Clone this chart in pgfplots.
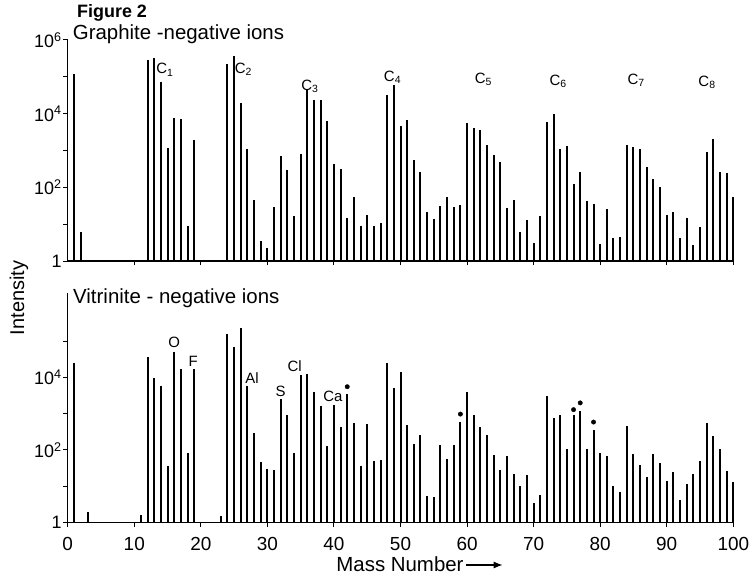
\documentclass[border=0pt]{standalone}
\usepackage{fontspec}
\setmainfont{Liberation Sans}
\usepackage{pgfplots}
\pgfplotsset{compat=1.18}
\usetikzlibrary{arrows.meta}

\begin{document}
\begin{tikzpicture}
\useasboundingbox (-67.7bp,-317bp) rectangle (685.3bp,261bp);

% graphite
\begin{axis}[at={(0,0)}, anchor=south west,
  scale only axis, width=665.6bp, height=221bp,
  xmin=0, xmax=100, ymode=log, ymin=1, ymax=1e6,
  axis lines=left, axis line style={-, line width=1.3bp},
  tick align=outside, major tick length=4.5bp, minor tick length=4.5bp,
  tick style={black, line width=1bp},
  xtick={10,20,...,100}, xticklabels={},
  ytick={1,100,10000,1000000}, minor ytick={10,1000,100000},
  yticklabels={1,10\textsuperscript{2},10\textsuperscript{4},10\textsuperscript{6}},
  yticklabel style={font=\fontsize{18}{18}\selectfont, inner sep=1.5bp},
  clip=false]
\addplot[ycomb, black, line width=2bp, mark=none] coordinates {
(1,1.2e5)(2,6)(12,2.8e5)(13,3.2e5)(14,7.4e4)(15,1.2e3)(16,7.8e3)(17,7.2e3)(18,9)(19,1.9e3)
(24,2.2e5)(25,3.7e5)(26,1.9e4)(27,1.1e3)(28,46)(29,3.4)(30,2.2)(31,30)(32,710)(33,300)
(34,17)(35,810)(36,4.4e4)(37,2.3e4)(38,2.4e4)(39,6.3e3)(40,420)(41,320)(42,15)(43,55)
(44,9)(45,18)(46,9)(47,11)(48,3.2e4)(49,5.9e4)(50,4.6e3)(51,6.6e3)(52,540)(53,260)
(54,21)(55,14)(56,32)(57,55)(58,30)(59,34)(60,5.6e3)(61,4.0e3)(62,3.5e3)(63,1.4e3)
(64,740)(65,490)(66,28)(67,46)(68,6)(69,13)(70,3)(71,17)(72,6.0e3)(73,1.0e4)
(74,1.1e3)(75,1.3e3)(76,120)(77,260)(78,43)(79,35)(80,2.9)(81,26)(82,4.2)(83,4.4)
(84,1.4e3)(85,1.26e3)(86,1.07e3)(87,350)(88,170)(89,105)(90,18)(91,22)(92,4.1)(93,15)
(94,2.7)(95,8.3)(96,890)(97,2.0e3)(98,260)(99,245)(100,55)
};
\node[font=\fontsize{15}{15}\selectfont, inner sep=0pt] at (axis cs:14.6,1.55e5) {C\textsubscript{1}};
\node[font=\fontsize{15}{15}\selectfont, inner sep=0pt] at (axis cs:26.4,1.6e5) {C\textsubscript{2}};
\node[font=\fontsize{15}{15}\selectfont, inner sep=0pt] at (axis cs:36.4,5.6e4) {C\textsubscript{3}};
\node[font=\fontsize{15}{15}\selectfont, inner sep=0pt] at (axis cs:48.8,9.5e4) {C\textsubscript{4}};
\node[font=\fontsize{15}{15}\selectfont, inner sep=0pt] at (axis cs:62.45,8.5e4) {C\textsubscript{5}};
\node[font=\fontsize{15}{15}\selectfont, inner sep=0pt] at (axis cs:73.7,7.5e4) {C\textsubscript{6}};
\node[font=\fontsize{15}{15}\selectfont, inner sep=0pt] at (axis cs:85.4,8e4) {C\textsubscript{7}};
\node[font=\fontsize{15}{15}\selectfont, inner sep=0pt] at (axis cs:96.05,7e4) {C\textsubscript{8}};
\end{axis}

% vitrinite
\begin{axis}[at={(0,-261.3bp)}, anchor=south west,
  scale only axis, width=665.6bp, height=229bp,
  xmin=0, xmax=100, ymode=log, ymin=1, ymax=2.14e6,
  axis lines=left, axis line style={-, line width=1.3bp},
  tick align=outside, major tick length=4.5bp, minor tick length=4.5bp,
  tick style={black, line width=1bp},
  xtick={0,10,...,100},
  xticklabels={0,10,20,30,40,50,60,70,80,90,100},
  xticklabel style={font=\fontsize{19}{19}\selectfont, yshift=-7bp},
  ytick={1,100,10000}, minor ytick={10,1000,100000},
  yticklabels={1,10\textsuperscript{2},10\textsuperscript{4}},
  yticklabel style={font=\fontsize{18}{18}\selectfont, inner sep=1.5bp},
  clip=false]
\addplot[ycomb, black, line width=2bp, mark=none] coordinates {
(1,2.6e4)(3,1.9)(11,1.6)(12,3.8e4)(13,9.5e3)(14,5.9e3)(15,35)(16,5.0e4)(17,1.7e4)(18,85)
(19,1.74e4)(23,1.5)(24,1.6e5)(25,6.8e4)(26,2.3e5)(27,5.9e3)(28,290)(29,45)(30,29)(31,28)
(32,2.5e3)(33,930)(34,83)(35,1.17e4)(36,1.23e4)(37,3.9e3)(38,1.6e3)(39,130)(40,1.8e3)(41,420)
(42,3.6e3)(43,560)(44,37)(45,510)(46,48)(47,52)(48,2.5e4)(49,5.0e3)(50,1.45e4)(51,500)
(52,145)(53,260)(54,5.4)(55,4.9)(56,138)(57,56)(58,141)(59,600)(60,4.1e3)(61,930)
(62,440)(63,260)(64,72)(65,28)(66,69)(67,22)(68,10)(69,20)(70,3.5)(71,5.8)
(72,3.1e3)(73,780)(74,930)(75,107)(76,930)(77,1.2e3)(78,105)(79,350)(80,81)(81,68)
(82,9.8)(83,7.1)(84,470)(85,76)(86,38)(87,18)(88,76)(89,43)(90,14)(91,24)
(92,4.2)(93,11.5)(94,22)(95,49)(96,540)(97,240)(98,105)(99,27)(100,13)
};
\addplot[only marks, mark=*, mark size=2.2bp, black] coordinates {
(42,5.6e3)(59,980)(76,1.3e3)(77,2.0e3)(79,590)
};
\node[font=\fontsize{15}{15}\selectfont, inner sep=0pt] at (axis cs:16,9.6e4) {O};
\node[font=\fontsize{15}{15}\selectfont, inner sep=0pt] at (axis cs:18.85,2.9e4) {F};
\node[font=\fontsize{15}{15}\selectfont, inner sep=0pt] at (axis cs:27.7,9.5e3) {Al};
\node[font=\fontsize{15}{15}\selectfont, inner sep=0pt] at (axis cs:32,4.3e3) {S};
\node[font=\fontsize{15}{15}\selectfont, inner sep=0pt] at (axis cs:34.1,2.1e4) {Cl};
\node[font=\fontsize{15}{15}\selectfont, inner sep=0pt] at (axis cs:39.85,3.0e3) {Ca};
\end{axis}

\node[anchor=base west, inner sep=0pt, font=\fontsize{18}{18}\selectfont\bfseries]
  at (9.3bp,243bp) {Figure 2};
\node[anchor=base west, inner sep=0pt, font=\fontsize{20.5}{20.5}\selectfont]
  at (5bp,221.5bp) {Graphite -negative ions};
\node[anchor=base west, inner sep=0pt, font=\fontsize{20.5}{20.5}\selectfont]
  at (5.3bp,-42.3bp) {Vitrinite - negative ions};
\node[rotate=90, inner sep=0pt, font=\fontsize{20}{20}\selectfont]
  at (-48.7bp,-37bp) {Intensity};
\node[anchor=base, inner sep=0pt, font=\fontsize{20.5}{20.5}\selectfont]
  at (332.3bp,-310bp) {Mass Number};
\draw[line width=1.2bp,-{Latex[length=9bp,width=7bp]}] (398bp,-304bp) -- (435bp,-304bp);
\end{tikzpicture}
\end{document}
